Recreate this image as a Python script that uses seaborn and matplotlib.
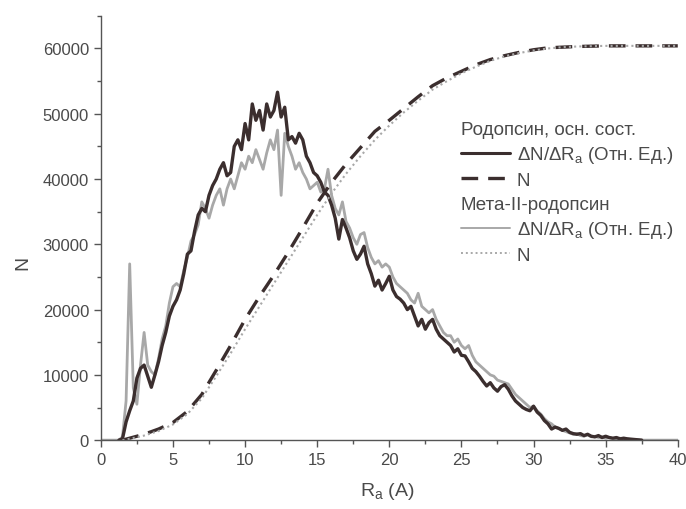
import numpy as np
import seaborn as sns
import matplotlib.pyplot as plt
from matplotlib.lines import Line2D
from matplotlib.ticker import MultipleLocator

# R grid (A), step 0.25
r_rho = np.round(np.arange(1.25, 37.51, 0.25), 2)
r_meta = np.round(np.arange(0.0, 40.01, 0.25), 2)

# dN/dR, rhodopsin ground state (dark line), from 1.25 to 37.5
rho_dens = [
    0, 200, 2800, 4500, 6000, 9500, 11000, 11500, 9800, 8100,
    10000, 12000, 14500, 16500, 19000, 20500, 21500, 23000, 25500, 28500,
    29000, 32000, 34500, 35500, 35000, 37500, 39000, 40000, 41500, 42500,
    40500, 41000, 45000, 46000, 44500, 48500, 46000, 51500, 49000, 50500,
    47500, 51500, 49500, 50500, 53300, 49500, 51000, 46000, 46500, 45500,
    47000, 46000, 43500, 42500, 41000, 40500, 39500, 38000, 37500, 36000,
    34000, 30800, 33800, 32500, 31000, 29000, 27700, 28500, 29700, 27000,
    25500, 23600, 24500, 23000, 24000, 25100, 23000, 22000, 21600, 21000,
    20000, 20500, 19000, 17500, 18500, 17000, 18000, 18500, 17000, 16000,
    15500, 15000, 14500, 13500, 14000, 13000, 12900, 12000, 11000, 10500,
    9800, 9000, 8300, 8800, 8000, 7500, 8200, 8500, 7800, 6800,
    6000, 5500, 5000, 4700, 4500, 5200, 4300, 3800, 3000, 2500,
    1700, 2000, 1800, 1500, 1700, 1200, 1000, 900, 1000, 700,
    900, 600, 500, 700, 400, 600, 400, 300, 400, 200,
    300, 200, 150, 100, 50, 0,
]

# dN/dR, Meta-II rhodopsin (light grey line), from 0 to 40
meta_dens = [
    0, 0, 0, 0, 0, 0, 500, 6000, 27000, 8000,
    5500, 11500, 16500, 11500, 10500, 10000, 12500, 15500, 17500, 21000,
    23500, 24000, 23500, 26000, 28000, 30500, 31500, 33000, 36500, 35500,
    34000, 36000, 37500, 38500, 36000, 38500, 40000, 38500, 40500, 42500,
    41500, 43500, 42500, 44500, 43000, 41500, 44000, 46000, 44500, 47500,
    37500, 47000, 45000, 43500, 41500, 42500, 41000, 40000, 38500, 39000,
    39500, 38000, 38500, 41500, 37500, 35500, 34500, 36500, 33500, 32500,
    31000, 30000, 31500, 31800, 29500, 28000, 27000, 27500, 26500, 27000,
    26500, 25000, 24000, 23500, 23000, 22500, 21500, 21000, 22500, 20500,
    20000, 19500, 20000, 18500, 17500, 16500, 16000, 16000, 15000, 15500,
    14500, 14000, 14500, 13000, 12000, 11500, 11000, 10500, 10000, 9800,
    9200, 9000, 8800, 8600, 7800, 7000, 6500, 6000, 5500, 5000,
    5200, 4500, 4000, 3300, 2800, 2500, 2000, 1800, 1500, 1300,
    1100, 900, 1000, 700, 600, 800, 500, 600, 400, 500,
    300, 400, 250, 200, 300, 150, 200, 100, 100, 50,
    0, 0, 0, 0, 0, 0, 0, 0, 0, 0,
    0,
]

# cumulative N
r_n = [1.5, 2, 3, 4, 5, 6, 7, 8, 9, 10, 11, 12, 13, 14, 15, 16, 17, 18, 19, 20,
       21, 22, 23, 24, 25, 26, 27, 28, 29, 30, 31, 32, 33, 34, 35, 36, 37, 38, 39, 40]
rho_n = [0, 300, 900, 1700, 2700, 4400, 7000, 10700, 14500, 18500,
         22000, 25300, 28800, 32500, 36300, 39500, 42300, 44800, 47300, 49000,
         50800, 52600, 54300, 55500, 56500, 57500, 58300, 58900, 59400, 59800,
         60100, 60200, 60300, 60350, 60400, 60400, 60400, 60400, 60400, 60400]
meta_n = [0, 200, 700, 1400, 2400, 4000, 6400, 9800, 13300, 17000,
          20500, 24000, 27500, 31000, 34500, 37800, 40800, 43500, 46000, 48200,
          50200, 52000, 53700, 55000, 56200, 57200, 58100, 58800, 59300, 59700,
          60000, 60200, 60300, 60350, 60400, 60400, 60400, 60400, 60400, 60400]

sns.set_theme(style='ticks')
plt.rcParams['font.family'] = ['Liberation Sans', 'DejaVu Sans']
plt.rcParams['mathtext.default'] = 'regular'

dark = '#3b2e2e'
grey = '#a8a8a8'
txt = '#4a4a4a'

fig = plt.figure(figsize=(6.86, 5.10), dpi=100)
ax = fig.add_axes([0.147, 0.135, 0.841, 0.832])

sns.lineplot(x=r_meta, y=meta_dens, ax=ax, color=grey, lw=2.0, estimator=None)
sns.lineplot(x=r_rho, y=rho_dens, ax=ax, color=dark, lw=2.4, estimator=None)
sns.lineplot(x=r_n, y=rho_n, ax=ax, color=dark, lw=2.4, estimator=None,
             linestyle=(0, (5, 3)))
sns.lineplot(x=r_n, y=meta_n, ax=ax, color=grey, lw=1.5, estimator=None,
             linestyle=(0, (1, 1.5)))

ax.set_xlim(0, 40)
ax.set_ylim(0, 65000)
ax.xaxis.set_major_locator(MultipleLocator(5))
ax.xaxis.set_minor_locator(MultipleLocator(2.5))
ax.yaxis.set_major_locator(MultipleLocator(10000))
ax.yaxis.set_minor_locator(MultipleLocator(5000))
ax.tick_params(which='major', length=5, width=1, colors='#555555', labelsize=12,
               labelcolor=txt)
ax.tick_params(which='minor', length=3, width=1, colors='#555555')
sns.despine(ax=ax)
for s in ['left', 'bottom']:
    ax.spines[s].set_color('#555555')
    ax.spines[s].set_linewidth(1)

ax.set_xlabel('R$_a$ (A)', fontsize=14, color=txt)
ax.set_ylabel('N', fontsize=14, color=txt)
ax.xaxis.set_label_coords(0.497, -0.095)
ax.yaxis.set_label_coords(-0.12, 0.42)

lab = 'ΔN/ΔR$_a$ (Отн. Ед.)'
h1 = [Line2D([], [], color=dark, lw=2.2),
      Line2D([], [], color=dark, lw=2.4, linestyle=(0, (5, 3)))]
h2 = [Line2D([], [], color=grey, lw=1.4),
      Line2D([], [], color=grey, lw=1.4, linestyle=(0, (1, 1.5)))]
leg_kw = dict(frameon=False, fontsize=13.5, title_fontsize=13.5, alignment='left',
              handlelength=2.6, handletextpad=0.37, labelspacing=0.33,
              borderpad=0, borderaxespad=0, loc='upper left')
leg1 = ax.legend(h1, [lab, 'N'], title='Родопсин, осн. сост.',
                 bbox_to_anchor=(0.624, 0.752), **leg_kw)
for t in leg1.get_texts():
    t.set_color(txt)
leg1.get_title().set_color(txt)
ax.add_artist(leg1)
leg2 = ax.legend(h2, [lab, 'N'], title='Мета-II-родопсин',
                 bbox_to_anchor=(0.624, 0.575), **leg_kw)
for t in leg2.get_texts():
    t.set_color(txt)
leg2.get_title().set_color(txt)

fig.savefig('out.png', dpi=100)
